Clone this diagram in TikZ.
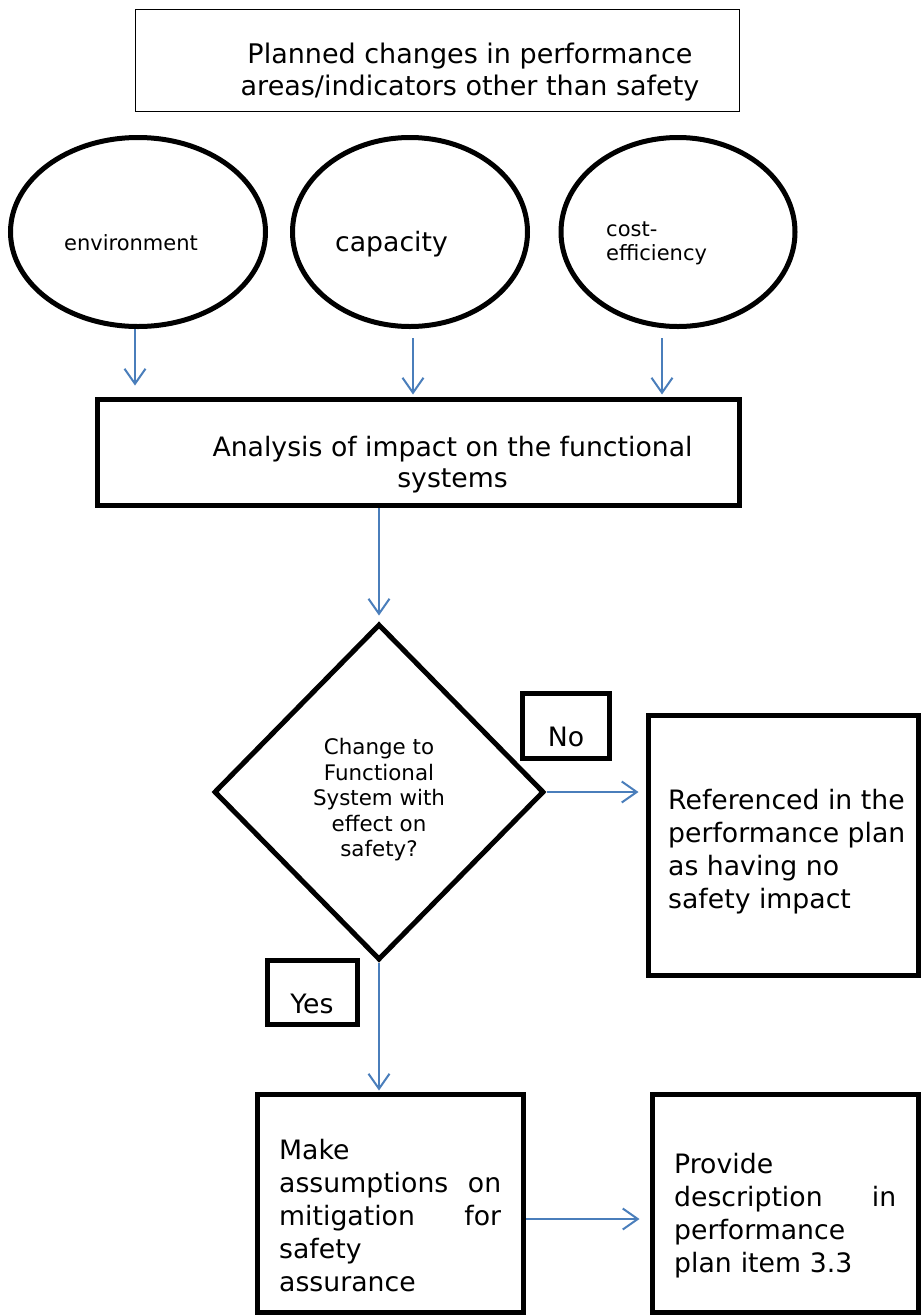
\documentclass[tikz,border=0pt]{standalone}
\usepackage{fontspec}
\setmainfont{DejaVu Sans}
\usepackage{xcolor}
\usepackage{tikz}
\usetikzlibrary{shapes.geometric,arrows.meta}

\definecolor{arrowblue}{RGB}{74,126,187}
\tikzset{
  thickbox/.style={draw=black, line width=5pt, inner sep=0pt},
  thinbox/.style={draw=black, line width=1.2pt, inner sep=0pt},
  area/.style={draw=black, line width=5pt, ellipse, inner sep=0pt},
  txt/.style={inner sep=0pt, font=\fontsize{26.7}{33}\selectfont},
  answer/.style={thickbox, minimum height=65pt, text height=41pt, text depth=0pt, font=\fontsize{26.7}{33}\selectfont},
  flow/.style={draw=arrowblue, line width=2pt, -{Straight Barb[length=15pt,width=21pt]}},
}

\begin{document}
\begin{tikzpicture}[x=1pt,y=-1pt]
    \useasboundingbox (0,0) rectangle (921,1315);
    \node[thinbox, minimum width=604pt, minimum height=102pt] (plan) at (437.5,60.5) {};
    \node[txt, align=center, font=\fontsize{27}{32}\selectfont] (plantext) at (470,72) {Planned changes in performance\\areas/indicators other than safety};

    \node[area, minimum width=255pt, minimum height=189pt] (env) at (138,232) {};
    \node[area, minimum width=235pt, minimum height=189pt] (cap) at (410,232) {};
    \node[area, minimum width=234pt, minimum height=189pt] (cost) at (678,232) {};
    \node[txt, font=\fontsize{21}{25}\selectfont] (envtext) at (131,243) {environment};
    \node[txt] (captext) at (391.5,244) {capacity};
    \node[txt, anchor=west, align=left, font=\fontsize{21}{24}\selectfont] (costtext) at (606,243) {cost-\\efficiency};

    \node[thickbox, minimum width=642pt, minimum height=106pt] (ana) at (418.5,452.5) {};
    \node[txt, align=center, font=\fontsize{26.7}{31}\selectfont] (anatext) at (452.5,465) {Analysis of impact on the functional\\systems};

    \draw[flow, shorten >=11.5pt] ([xshift=-3pt]env.south) -- ([xshift=-3pt]env.south |- ana.north);
    \draw[flow, shorten >=2.5pt] ([xshift=3pt,yshift=-9pt]cap.south) -- ([xshift=3pt]cap.south |- ana.north);
    \draw[flow, shorten >=2.5pt] ([xshift=-16pt,yshift=-9pt]cost.south) -- ([xshift=-16pt]cost.south |- ana.north);

    \node[diamond, draw=black, line width=5pt, inner sep=0pt, minimum width=330pt, minimum height=336pt] (dec) at (379,792) {};
    \node[txt, align=center, font=\fontsize{21.4}{25.5}\selectfont] (dectext) at (379,800) {Change to\\Functional\\System with\\effect on\\safety?};

    \node[answer, minimum width=87pt] (no) at (566,726) {No};
    \node[answer, minimum width=90pt, minimum height=64pt] (yes) at (312,992.5) {Yes};

    \node[thickbox, minimum width=270pt, minimum height=260pt] (ref) at (783.5,845) {};
    \node[txt, anchor=west, align=left] (reftext) at (668,852) {Referenced in the\\performance plan\\as having no\\safety impact};

    \node[thickbox, minimum width=266pt, minimum height=218pt] (make) at (390.5,1203.5) {};
    \node[txt, anchor=west, text width=222pt, align=left] (maketext) at (279,1216) {Make\\assumptions \hfill on\\mitigation \hfill for\\safety\\assurance};

    \node[thickbox, minimum width=266pt, minimum height=218pt] (prov) at (785.5,1203.5) {};
    \node[txt, anchor=west, text width=222pt, align=left] (provtext) at (674,1215.5) {Provide\\description \hfill in\\performance\\plan item 3.3};

    \draw[flow, shorten >=6pt] (dec.north |- ana.south) -- (dec.north);
    \draw[flow, shorten >=7.5pt] (dec.east) -- (dec.east -| ref.west);
    \draw[flow, shorten >=1.5pt] (dec.south) -- (dec.south |- make.north);
    \draw[flow, shorten >=10.5pt] ([yshift=-15.5pt]make.east) -- ([yshift=-15.5pt]make.east -| prov.west);
\end{tikzpicture}
\end{document}
